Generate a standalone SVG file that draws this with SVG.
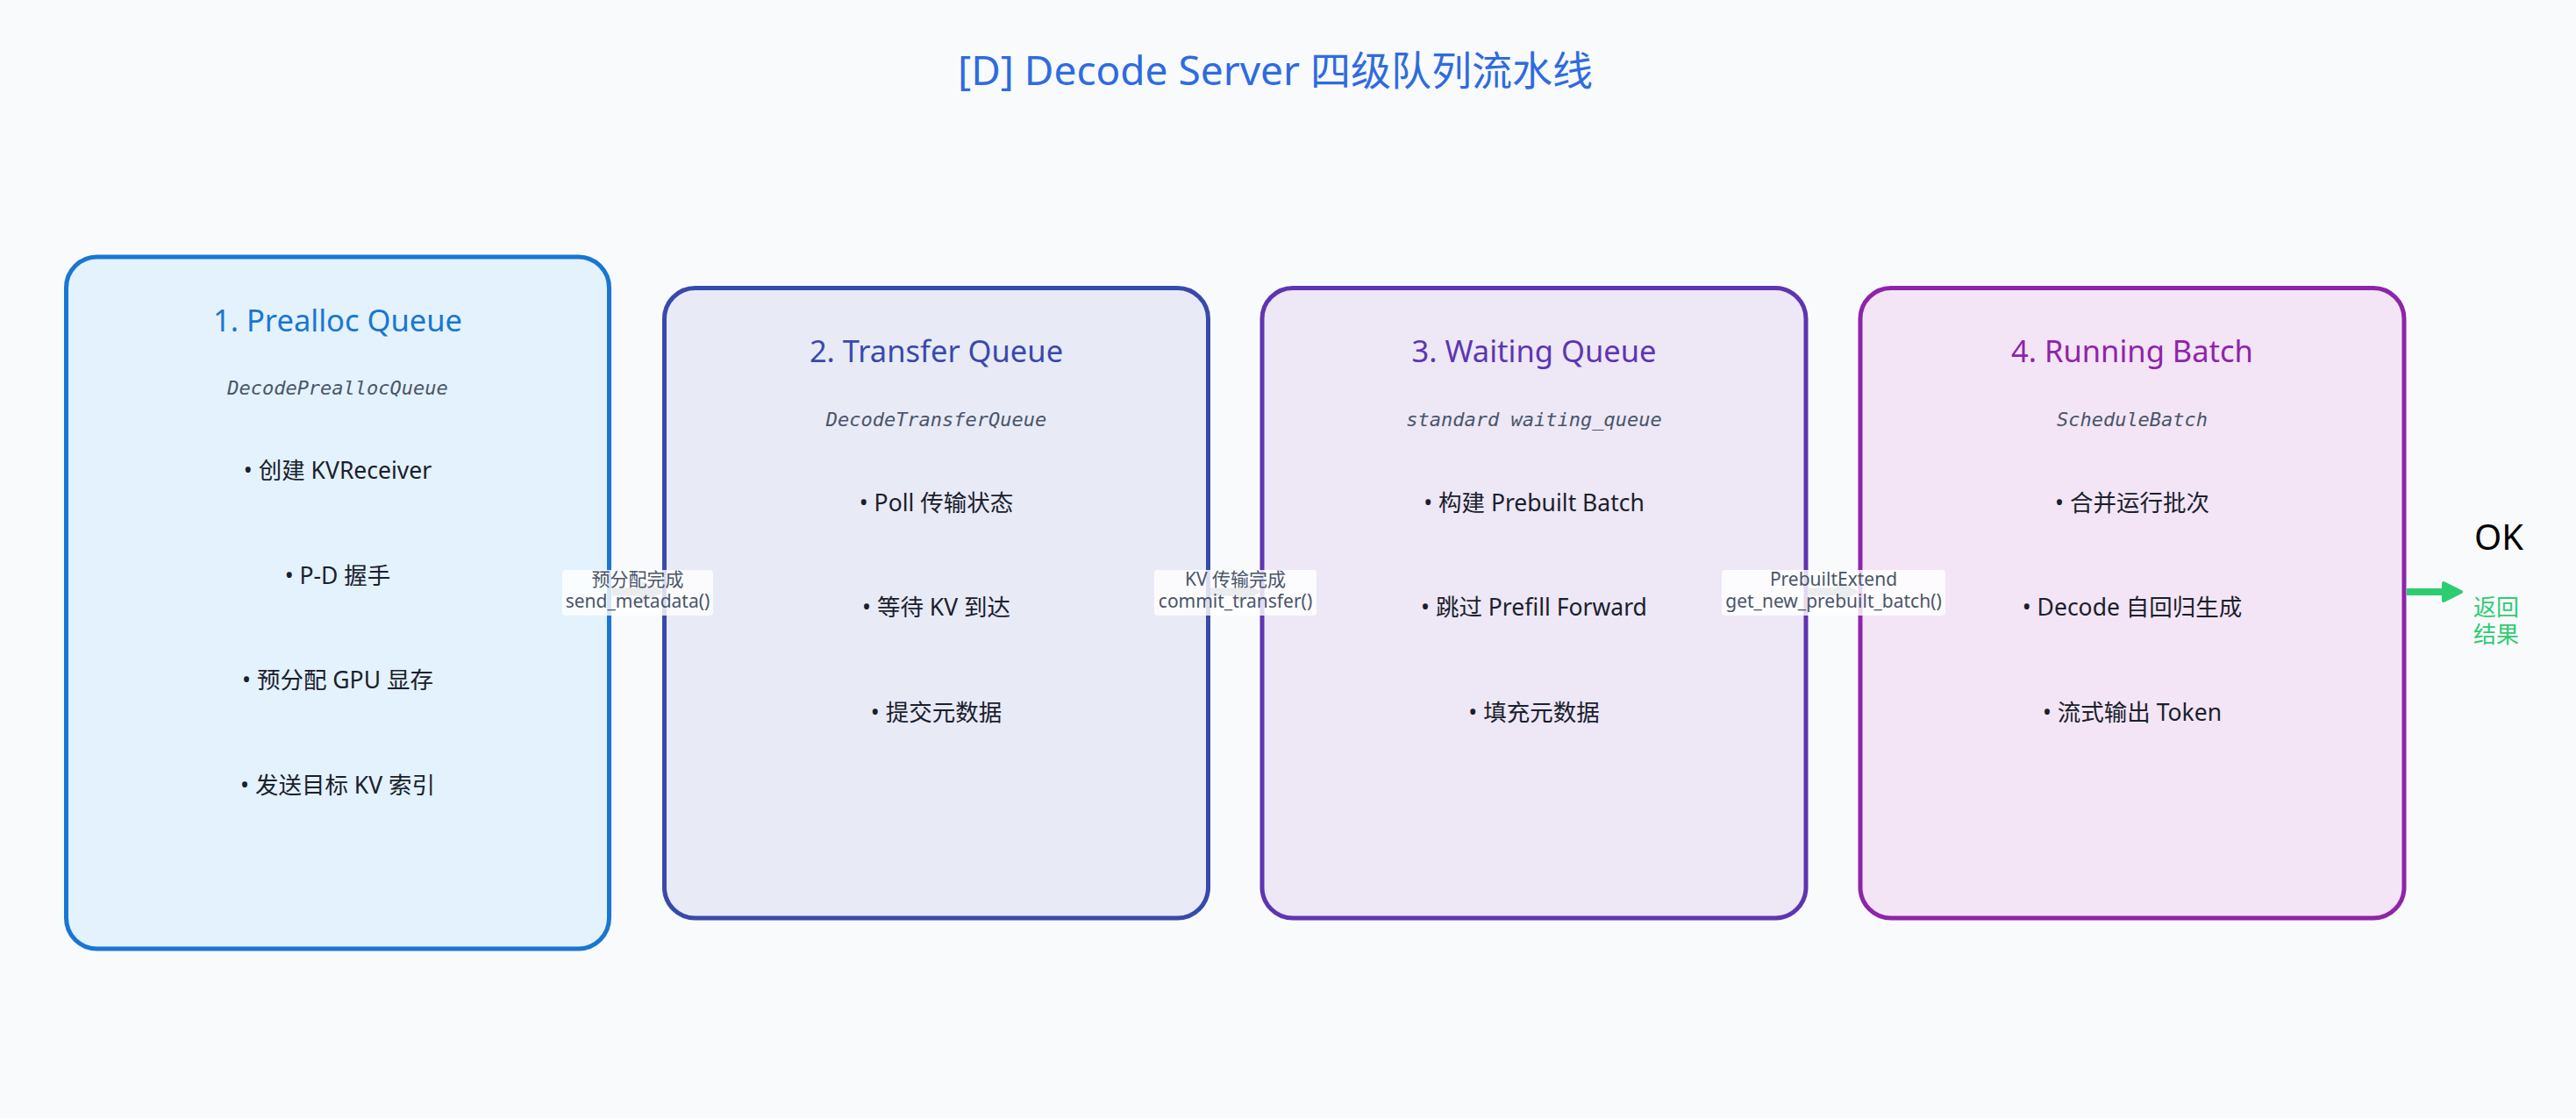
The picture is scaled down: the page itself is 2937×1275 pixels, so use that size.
<svg xmlns="http://www.w3.org/2000/svg" width="2937" height="1275" viewBox="0 0 2937 1275">
<defs>
<style>
.bg{fill:#f8fafc}
.box{stroke-width:5}
.ttl{font-family:"Noto Sans","Noto Sans CJK SC",sans-serif;font-size:34.5px;text-anchor:middle}
.mono{font-family:"DejaVu Sans Mono",monospace;font-style:italic;font-size:22px;fill:#4a5568;text-anchor:middle}
.bul{font-family:"Noto Sans","Noto Sans CJK SC",sans-serif;font-size:26.5px;fill:#1a202c;text-anchor:middle}
.lblbg{fill:#ffffff;fill-opacity:0.82}
.lbl{font-family:"Noto Sans","Noto Sans CJK SC",sans-serif;font-size:21px;fill:#4a5568;text-anchor:middle}
.conn{stroke:#8a94a6;stroke-width:9;fill:none}
.ok{stroke:#2ecc71;stroke-width:8;fill:none}
</style>
<marker id="ahGray" viewBox="0 0 26 26" markerWidth="26" markerHeight="26" refX="12" refY="13" markerUnits="userSpaceOnUse" orient="auto">
<path d="M3,3 L23,13 L3,23 Z" fill="#8a94a6" stroke="#8a94a6" stroke-width="4" stroke-linejoin="round"/>
</marker>
<marker id="ahGreen" viewBox="0 0 26 26" markerWidth="26" markerHeight="26" refX="12" refY="13" markerUnits="userSpaceOnUse" orient="auto">
<path d="M3,3 L23,13 L3,23 Z" fill="#2ecc71" stroke="#2ecc71" stroke-width="4" stroke-linejoin="round"/>
</marker>
</defs>
<rect class="bg" x="0" y="0" width="2937" height="1275"/>
<text x="1454" y="97" font-family="Noto Sans, Noto Sans CJK SC, sans-serif" font-size="46" fill="#2e6be0" text-anchor="middle">[D] Decode Server 四级队列流水线</text>

<g id="node-prealloc">
<rect class="box" x="75.5" y="293" width="619" height="789" rx="35" fill="#e3f2fd" stroke="#1976d2"/>
<text class="ttl" x="385" y="378" fill="#1976d2">1. Prealloc Queue</text>
<text class="mono" x="385" y="450">DecodePreallocQueue</text>
<text class="bul" x="385" y="546">• 创建 KVReceiver</text>
<text class="bul" x="385" y="665.5">• P-D 握手</text>
<text class="bul" x="385" y="785">• 预分配 GPU 显存</text>
<text class="bul" x="385" y="904.5">• 发送目标 KV 索引</text>
</g>

<g id="node-transfer">
<rect class="box" x="757.5" y="328.5" width="620" height="718.5" rx="35" fill="#e8eaf6" stroke="#3949ab"/>
<text class="ttl" x="1067.5" y="413" fill="#3949ab">2. Transfer Queue</text>
<text class="mono" x="1067.5" y="485.5">DecodeTransferQueue</text>
<text class="bul" x="1067.5" y="582.5">• Poll 传输状态</text>
<text class="bul" x="1067.5" y="702">• 等待 KV 到达</text>
<text class="bul" x="1067.5" y="821.5">• 提交元数据</text>
</g>

<g id="node-waiting">
<rect class="box" x="1439" y="328.5" width="620" height="718.5" rx="35" fill="#ede7f6" stroke="#5e35b1"/>
<text class="ttl" x="1749" y="413" fill="#5e35b1">3. Waiting Queue</text>
<text class="mono" x="1749" y="485.5">standard waiting_queue</text>
<text class="bul" x="1749" y="582.5">• 构建 Prebuilt Batch</text>
<text class="bul" x="1749" y="702">• 跳过 Prefill Forward</text>
<text class="bul" x="1749" y="821.5">• 填充元数据</text>
</g>

<g id="node-running">
<rect class="box" x="2121" y="328.5" width="620" height="718.5" rx="35" fill="#f3e5f5" stroke="#8e24aa"/>
<text class="ttl" x="2431" y="413" fill="#8e24aa">4. Running Batch</text>
<text class="mono" x="2431" y="485.5">ScheduleBatch</text>
<text class="bul" x="2431" y="582.5">• 合并运行批次</text>
<text class="bul" x="2431" y="702">• Decode 自回归生成</text>
<text class="bul" x="2431" y="821.5">• 流式输出 Token</text>
</g>

<g id="connectors">
<line class="conn" x1="698" y1="675" x2="742" y2="675" marker-end="url(#ahGray)"/>
<line class="conn" x1="1380" y1="675" x2="1423" y2="675" marker-end="url(#ahGray)"/>
<line class="conn" x1="2062" y1="675" x2="2105" y2="675" marker-end="url(#ahGray)"/>
<rect class="lblbg" x="641" y="650" width="172" height="52" rx="4"/>
<text class="lbl" x="727" y="668">预分配完成</text>
<text class="lbl" x="727" y="693">send_metadata()</text>
<rect class="lblbg" x="1316" y="650" width="185" height="52" rx="4"/>
<text class="lbl" x="1408.5" y="668">KV 传输完成</text>
<text class="lbl" x="1408.5" y="693">commit_transfer()</text>
<rect class="lblbg" x="1963" y="650" width="255" height="52" rx="4"/>
<text class="lbl" x="2090.5" y="668">PrebuiltExtend</text>
<text class="lbl" x="2090.5" y="693">get_new_prebuilt_batch()</text>
<line class="ok" x1="2744" y1="675" x2="2795" y2="675" marker-end="url(#ahGreen)"/>
<text x="2821" y="627" font-family="Noto Sans, sans-serif" font-size="40" fill="#000000">OK</text>
<text x="2820" y="702" font-family="Noto Sans CJK SC, sans-serif" font-size="26" fill="#2ecc71">返回</text>
<text x="2820" y="733" font-family="Noto Sans CJK SC, sans-serif" font-size="26" fill="#2ecc71">结果</text>
</g>
</svg>
